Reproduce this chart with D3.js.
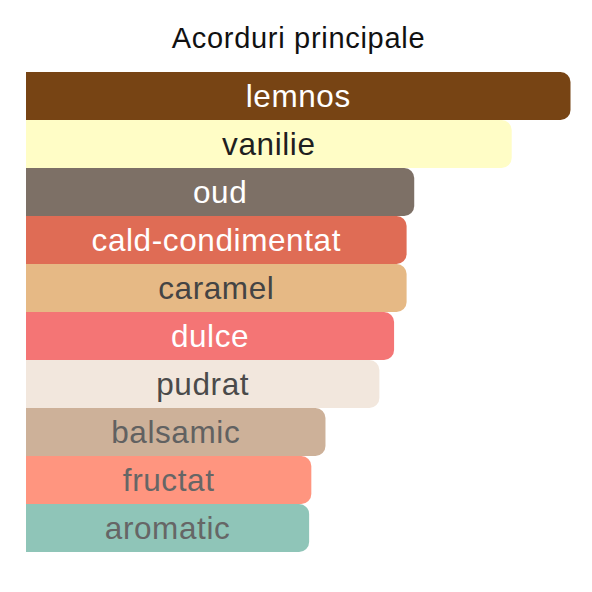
<!DOCTYPE html>
<html>
<head>
<meta charset="utf-8">
<script src="https://cdn.jsdelivr.net/npm/d3@7"></script>
<style>
  html, body { margin: 0; padding: 0; background: #fff; }
  svg { display: block; }
  text { font-family: "Liberation Sans", Arial, Helvetica, sans-serif; }
</style>
</head>
<body>
<svg id="chart" width="592" height="592"></svg>
<script>
// accords, strongest first (relative strength, lemnos = 100)
const accords = ['lemnos', 'vanilie', 'oud', 'cald-condimentat', 'caramel',
  'dulce', 'pudrat', 'balsamic', 'fructat', 'aromatic'];
const strength = [100, 89.2, 71.3, 69.9, 69.9, 67.6, 64.9, 55.0, 52.4, 52.0];
const barColors = ['#774414', '#fffdc6', '#7d7066', '#df6c55', '#e6b985',
  '#f47575', '#f2e7dd', '#cdb199', '#ff957f', '#8fc5b8'];
const textColors = ['#ffffff', '#1f1f1f', '#ffffff', '#ffffff', '#444444',
  '#ffffff', '#4a4a4a', '#616161', '#666666', '#666666'];

const svg = d3.select('#chart');
const r = 10;

const x = d3.scaleLinear().domain([0, 100]).range([26, 570.5]);
const y = d3.scaleBand().domain(accords).range([72, 552]).padding(0);

svg.append('text')
  .attr('x', 298.5)
  .attr('y', 47.5)
  .attr('text-anchor', 'middle')
  .attr('font-size', 29)
  .attr('letter-spacing', 0.7)
  .attr('fill', '#111')
  .text('Acorduri principale');

// bar shape: square on the left, rounded on the right
function barPath(d, i) {
  const x0 = x(0), x1 = x(strength[i]);
  const y0 = y(d), y1 = y0 + y.bandwidth();
  return `M${x0},${y0}H${x1 - r}A${r},${r} 0 0 1 ${x1},${y0 + r}` +
    `V${y1 - r}A${r},${r} 0 0 1 ${x1 - r},${y1}H${x0}Z`;
}

const rows = svg.append('g').selectAll('g')
  .data(accords)
  .join('g');

rows.append('path')
  .attr('d', barPath)
  .attr('fill', (d, i) => barColors[i]);

rows.append('text')
  .attr('x', (d, i) => (x(0) + x(strength[i])) / 2)
  .attr('y', d => y(d) + y.bandwidth() / 2 + 11)
  .attr('text-anchor', 'middle')
  .attr('font-size', 31.5)
  .attr('letter-spacing', 0.6)
  .attr('fill', (d, i) => textColors[i])
  .text(d => d);
</script>
</body>
</html>
